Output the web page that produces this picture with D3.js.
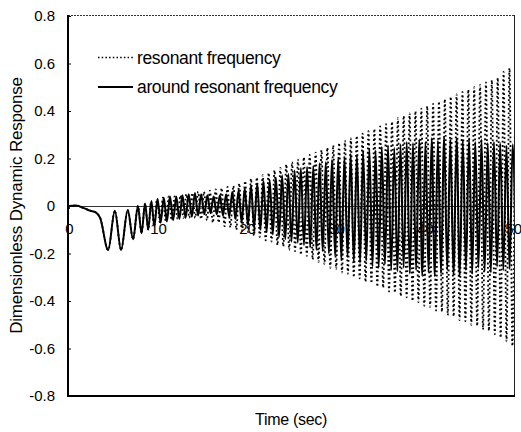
<!DOCTYPE html>
<html>
<head>
<meta charset="utf-8">
<script src="https://cdn.jsdelivr.net/npm/d3@7"></script>
<style>
  body { margin: 0; background: #fff; }
  svg { display: block; }
  text { font-family: "Liberation Sans", Arial, sans-serif; fill: #000; }
</style>
</head>
<body>
<svg id="chart" width="521" height="432"></svg>
<script>
// Axis ticks
const timeTicks = [0, 10, 20, 30, 40, 50];
const responseTicks = [-0.8, -0.6, -0.4, -0.2, 0, 0.2, 0.4, 0.6, 0.8];
const seriesNames = ["resonant frequency", "around resonant frequency"];

// Start-up transient, identical for both excitations (time in s, response)
const transientTime  = [0, 0.8, 1.6, 2.4, 3.0, 3.5, 4.4, 5.15, 5.85, 6.6, 7.2, 7.75, 8.15, 8.55];
const transientValue = [0, 0.002, -0.008, -0.02, -0.027, -0.05, -0.185, -0.02, -0.185, -0.017, -0.14, 0.0, -0.115, 0.01];

// Successive troughs / peaks after the transient, sampled every half cycle
const resonantStart = 8.9;
const resonantStep = 0.33;
const resonantExtremes = [
  -0.10, 0.02, -0.085, 0.03, -0.07, 0.035, -0.065, 0.04, -0.06, 0.04,
  -0.055, 0.045, -0.05, 0.05, -0.05, 0.055, -0.05, 0.06, -0.055, 0.06,
  -0.06, 0.065, -0.07, 0.07, -0.07, 0.075, -0.085, 0.08, -0.09, 0.085,
  -0.1, 0.095, -0.105, 0.105, -0.11, 0.115, -0.125, 0.12, -0.13, 0.13,
  -0.145, 0.14, -0.15, 0.15, -0.165, 0.16, -0.17, 0.175, -0.185, 0.185,
  -0.19, 0.195, -0.205, 0.205, -0.21, 0.215, -0.225, 0.225, -0.235, 0.235,
  -0.245, 0.245, -0.26, 0.255, -0.265, 0.265, -0.28, 0.275, -0.285, 0.285,
  -0.3, 0.295, -0.305, 0.305, -0.32, 0.315, -0.325, 0.325, -0.34, 0.335,
  -0.345, 0.345, -0.36, 0.355, -0.365, 0.37, -0.38, 0.38, -0.385, 0.39,
  -0.4, 0.4, -0.405, 0.41, -0.42, 0.42, -0.425, 0.43, -0.44, 0.44,
  -0.445, 0.45, -0.46, 0.46, -0.465, 0.47, -0.48, 0.48, -0.485, 0.49,
  -0.5, 0.5, -0.505, 0.51, -0.52, 0.52, -0.525, 0.53, -0.54, 0.54,
  -0.555, 0.565, -0.57, 0.58, -0.59, 0.6
];

const aroundStart = 8.9;
const aroundStep = 0.35;
const aroundExtremes = [
  -0.10, 0.02, -0.085, 0.03, -0.07, 0.035, -0.065, 0.04, -0.06, 0.04,
  -0.055, 0.045, -0.05, 0.05, -0.045, 0.055, -0.04, 0.05, -0.035, 0.045,
  -0.03, 0.04, -0.035, 0.045, -0.04, 0.05, -0.045, 0.06, -0.055, 0.065,
  -0.07, 0.075, -0.08, 0.085, -0.09, 0.095, -0.1, 0.105, -0.11, 0.11,
  -0.12, 0.12, -0.13, 0.13, -0.14, 0.135, -0.15, 0.15, -0.155, 0.16,
  -0.165, 0.165, -0.175, 0.17, -0.185, 0.18, -0.19, 0.185, -0.2, 0.195,
  -0.21, 0.2, -0.225, 0.205, -0.215, 0.22, -0.235, 0.215, -0.24, 0.23,
  -0.23, 0.24, -0.255, 0.235, -0.26, 0.25, -0.245, 0.255, -0.27, 0.245,
  -0.275, 0.26, -0.26, 0.27, -0.285, 0.265, -0.27, 0.28, -0.295, 0.27,
  -0.28, 0.285, -0.295, 0.275, -0.285, 0.29, -0.27, 0.28, -0.29, 0.285,
  -0.295, 0.275, -0.27, 0.285, -0.285, 0.27, -0.26, 0.28, -0.275, 0.265,
  -0.28, 0.27, -0.255, 0.265, -0.27, 0.255, -0.265, 0.26, -0.27
];

function buildSeries(start, step, extremes) {
  const pts = transientTime.map((t, i) => ({ t, v: transientValue[i] }));
  extremes.forEach((v, i) => pts.push({ t: start + i * step, v }));
  return pts;
}
const resonant = buildSeries(resonantStart, resonantStep, resonantExtremes);
const around = buildSeries(aroundStart, aroundStep, aroundExtremes);

const svg = d3.select("#chart");
const plot = { left: 68, right: 514, top: 15, bottom: 396 };

const x = d3.scaleLinear().domain([0, 50]).range([69, plot.right]);
const y = d3.scaleLinear().domain([-0.8, 0.8]).range([396, 16]);

// clip to the plotting area
svg.append("defs").append("clipPath").attr("id", "plotClip")
  .append("rect")
  .attr("x", plot.left).attr("y", plot.top)
  .attr("width", plot.right - plot.left).attr("height", plot.bottom - plot.top);

// top / right frame
svg.append("line").attr("x1", plot.left).attr("x2", plot.right)
  .attr("y1", plot.top + 0.5).attr("y2", plot.top + 0.5)
  .attr("stroke", "#333").attr("stroke-width", 1).attr("stroke-dasharray", "2 1");
svg.append("line").attr("x1", plot.right + 0.5).attr("x2", plot.right + 0.5)
  .attr("y1", plot.top).attr("y2", plot.bottom)
  .attr("stroke", "#222").attr("stroke-width", 1);

// time axis along zero response
const xAxis = d3.axisBottom(x).tickValues(timeTicks).tickFormat(d3.format("d"))
  .tickSizeInner(3).tickSizeOuter(0).tickPadding(14);
const gx = svg.append("g").attr("transform", `translate(0,${y(0)})`).call(xAxis);
gx.select(".domain").attr("stroke", "#333").attr("stroke-width", 1)
  .attr("d", `M${plot.left},0.5H${plot.right}`);
gx.selectAll(".tick line").attr("stroke", "#333");
gx.selectAll(".tick text").attr("font-size", 15).attr("font-family", "Liberation Sans, Arial, sans-serif");
// keep the last time label inside the page
gx.selectAll(".tick text").filter(d => d === timeTicks[timeTicks.length - 1])
  .attr("text-anchor", "end").attr("dx", "0.5em");

// response axis
const yAxis = d3.axisLeft(y).tickValues(responseTicks)
  .tickFormat(d => d === 0 ? "0" : d3.format(".1f")(d).replace("−", "-"))
  .tickSizeInner(-3).tickSizeOuter(0).tickPadding(13);
const gy = svg.append("g").attr("transform", `translate(${plot.left},0)`).call(yAxis);
gy.select(".domain").attr("stroke", "#000").attr("stroke-width", 2)
  .attr("d", `M0,${plot.top}V${plot.bottom}`);
gy.selectAll(".tick line").attr("stroke", "#000");
gy.selectAll(".tick text").attr("font-size", 15).attr("font-family", "Liberation Sans, Arial, sans-serif");

// bottom frame
svg.append("line").attr("x1", plot.left - 1).attr("x2", plot.right + 1)
  .attr("y1", plot.bottom).attr("y2", plot.bottom)
  .attr("stroke", "#000").attr("stroke-width", 2);

// response curves
const line = d3.line().x(d => x(d.t)).y(d => y(d.v)).curve(d3.curveMonotoneX);
const curves = svg.append("g").attr("clip-path", "url(#plotClip)");
curves.append("path").datum(around)
  .attr("d", line).attr("fill", "none")
  .attr("stroke", "#000").attr("stroke-width", 2);
curves.append("path").datum(resonant)
  .attr("d", line).attr("fill", "none")
  .attr("stroke", "#000").attr("stroke-width", 1.8)
  .attr("stroke-dasharray", "1.8 2.6");

// legend
const legend = svg.append("g");
const legendRows = [
  { name: seriesNames[0], y: 57.5, dash: "1.5 2.2", w: 1.3 },
  { name: seriesNames[1], y: 87, dash: null, w: 1.8 }
];
legendRows.forEach(r => {
  legend.append("line").attr("x1", 98).attr("x2", 133)
    .attr("y1", r.y).attr("y2", r.y)
    .attr("stroke", "#000").attr("stroke-width", r.w)
    .attr("stroke-dasharray", r.dash);
  legend.append("text").attr("x", 137).attr("y", r.y + 6)
    .attr("font-size", 17.5).attr("letter-spacing", "-0.35px")
    .text(r.name);
});

// axis titles
svg.append("text").attr("x", (plot.left + plot.right) / 2).attr("y", 425)
  .attr("text-anchor", "middle").attr("font-size", 16).attr("letter-spacing", "-0.3px")
  .text("Time (sec)");
svg.append("text")
  .attr("transform", `translate(22,${(plot.top + plot.bottom) / 2}) rotate(-90)`)
  .attr("text-anchor", "middle").attr("font-size", 17).attr("letter-spacing", "-0.2px")
  .text("Dimensionless Dynamic Response");
</script>
</body>
</html>
